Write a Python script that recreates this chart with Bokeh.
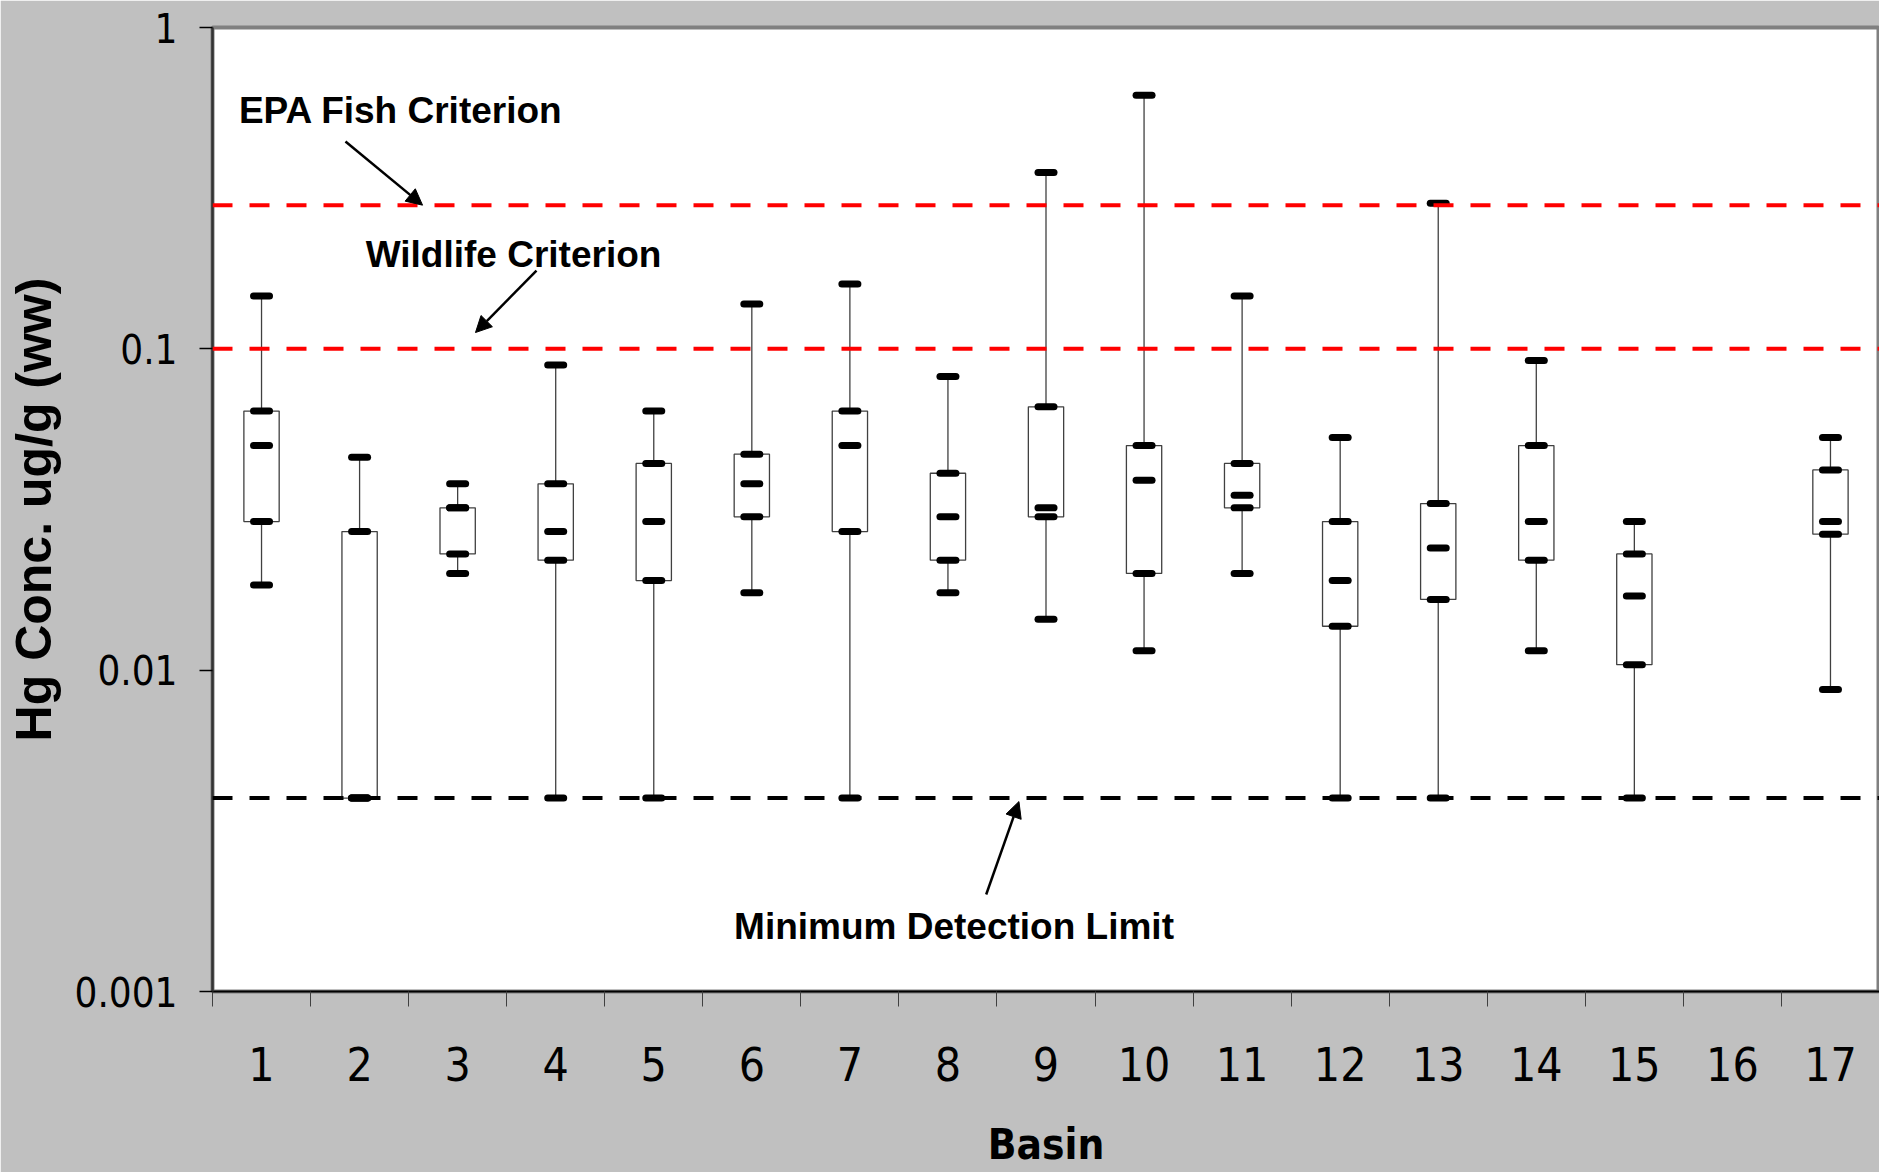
from bokeh.plotting import figure
from bokeh.models import (Range1d, FixedTicker, CustomJSTickFormatter, Span, Label,
                          Arrow, NormalHead, ColumnDataSource)
from bokeh.embed import file_html
from bokeh.resources import INLINE

# ---- data ----
basins = [1, 2, 3, 4, 5, 6, 7, 8, 9, 10, 11, 12, 13, 14, 15, 17]
hg_max = [0.146, 0.046, 0.038, 0.089, 0.064, 0.138, 0.159, 0.082, 0.354, 0.615, 0.146, 0.053, 0.284, 0.092, 0.029, 0.053]
hg_q3 = [0.064, 0.027, 0.032, 0.038, 0.044, 0.047, 0.064, 0.041, 0.066, 0.050, 0.044, 0.029, 0.033, 0.050, 0.023, 0.042]
hg_median = [0.050, 0.004, 0.032, 0.027, 0.029, 0.038, 0.050, 0.030, 0.032, 0.039, 0.035, 0.019, 0.024, 0.029, 0.017, 0.029]
hg_q1 = [0.029, 0.004, 0.023, 0.022, 0.019, 0.030, 0.027, 0.022, 0.030, 0.020, 0.032, 0.0137, 0.0166, 0.022, 0.0104, 0.0265]
hg_min = [0.0184, 0.004, 0.020, 0.004, 0.004, 0.0174, 0.004, 0.0174, 0.0144, 0.0115, 0.020, 0.004, 0.004, 0.0115, 0.004, 0.0087]
basin_labels = [str(i) for i in range(1, 18)]
y_ticks = [0.001, 0.01, 0.1, 1]

epa_fish = 0.28
wildlife = 0.1
mdl = 0.004

GRAY_BG = "#c0c0c0"
NARROW = "DejaVu Sans Condensed"

p = figure(width=1879, height=1172, output_backend="svg", toolbar_location=None,
           y_axis_type="log", x_range=Range1d(0.5, 17.5), y_range=Range1d(0.001, 1),
           min_border_left=212, min_border_right=0, min_border_top=27, min_border_bottom=181)
p.border_fill_color = GRAY_BG
p.background_fill_color = "white"
p.outline_line_color = "#808080"
p.outline_line_width = 4
p.xgrid.visible = False
p.ygrid.visible = False

# x axis: labels at centres, ticks at category boundaries
p.xaxis.ticker = FixedTicker(ticks=list(range(1, 18)),
                             minor_ticks=[i + 0.5 for i in range(0, 18)])
p.xaxis.major_label_overrides = {i + 1: lab for i, lab in enumerate(basin_labels)}
p.xaxis.major_tick_out = 0
p.xaxis.major_tick_in = 0
p.xaxis.minor_tick_out = 15
p.xaxis.minor_tick_in = 0
p.xaxis.minor_tick_line_color = "#404040"
p.xaxis.minor_tick_line_width = 1
p.xaxis.axis_line_color = "black"
p.xaxis.axis_line_width = 2
p.xaxis.major_label_text_font = NARROW
p.xaxis.major_label_text_font_size = "46px"
p.xaxis.major_label_text_color = "black"
p.xaxis.major_label_standoff = 40
p.xaxis.axis_label = "Basin"
p.xaxis.axis_label_text_font = NARROW
p.xaxis.axis_label_text_font_style = "bold"
p.xaxis.axis_label_text_font_size = "42px"
p.xaxis.axis_label_text_color = "black"
p.xaxis.axis_label_standoff = 36

# y axis
p.yaxis.ticker = FixedTicker(ticks=y_ticks, minor_ticks=[])
p.yaxis.formatter = CustomJSTickFormatter(code="return String(tick)")
p.yaxis.major_tick_out = 13
p.yaxis.major_tick_in = 0
p.yaxis.major_tick_line_color = "black"
p.yaxis.major_tick_line_width = 1.5
p.yaxis.axis_line_color = "#333333"
p.yaxis.axis_line_width = 2.5
p.yaxis.major_label_text_font = NARROW
p.yaxis.major_label_text_font_size = "40px"
p.yaxis.major_label_text_color = "black"
p.yaxis.major_label_standoff = 22
p.yaxis.axis_label = "Hg Conc. ug/g (ww)"
p.yaxis.axis_label_text_font = "Liberation Sans"
p.yaxis.axis_label_text_font_style = "bold"
p.yaxis.axis_label_text_font_size = "50px"
p.yaxis.axis_label_text_color = "black"
p.yaxis.axis_label_standoff = 10

# criterion lines
for val, col in [(epa_fish, "#ff0000"), (wildlife, "#ff0000"), (mdl, "black")]:
    p.add_layout(Span(location=val, dimension="width", line_color=col,
                      line_width=4, line_dash="20 17"))

src = ColumnDataSource(dict(x=basins, mx=hg_max, q3=hg_q3, med=hg_median, q1=hg_q1, mn=hg_min))

# whiskers
p.segment(x0="x", y0="mn", x1="x", y1="mx", source=src, line_color="#404040", line_width=1.3)
# boxes
p.vbar(x="x", width=0.36, bottom="q1", top="q3", source=src, fill_color="white",
       line_color="#404040", line_width=1.3)
# dash markers
for col in ["mx", "q3", "med", "q1", "mn"]:
    p.scatter(x="x", y=col, source=src, marker="dash", size=16, line_width=7,
              line_color="black", line_cap="round")

# annotations
ann_font = dict(text_font="Liberation Sans", text_font_style="bold",
                text_font_size="37px", text_color="black",
                text_align="center", text_baseline="middle")
p.add_layout(Label(x=2.422, y=0.5515, text="EPA Fish Criterion", **ann_font))
p.add_layout(Label(x=3.57, y=0.1965, text="Wildlife Criterion", **ann_font))
p.add_layout(Label(x=8.062, y=0.00159, text="Minimum Detection Limit", **ann_font))

for xs, ys, xe, ye in [(1.856, 0.4418, 2.642, epa_fish),
                       (3.804, 0.1752, 3.182, 0.1124),
                       (8.39, 0.002004, 8.724, 0.0039)]:
    p.add_layout(Arrow(x_start=xs, y_start=ys, x_end=xe, y_end=ye,
                       line_color="black", line_width=2.5,
                       end=NormalHead(size=16, fill_color="black", line_color="black")))

open("out.html", "w").write(file_html(p, INLINE))
